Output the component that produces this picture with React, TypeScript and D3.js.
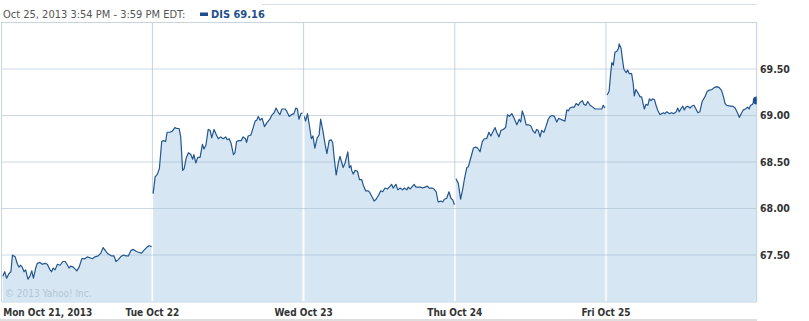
import React from "react";
import * as d3 from "d3";

type Pt = [number, number]; // [minutes since 9:30 open, price]

const dayLabels = ["Mon Oct 21, 2013", "Tue Oct 22", "Wed Oct 23", "Thu Oct 24", "Fri Oct 25"];
const yTicks = [67.5, 68.0, 68.5, 69.0, 69.5];
const headerText = "Oct 25, 2013 3:54 PM - 3:59 PM EDT:";
const seriesLabel = "DIS 69.16";
const watermark = "\u00A9 2013 Yahoo! Inc.";

const mon: Pt[] = [
  [4, 67.27], [9, 67.32], [14, 67.25], [20, 67.3], [25, 67.32], [29, 67.5], [36, 67.48], [42, 67.4],
  [46, 67.37], [50, 67.39], [54, 67.37], [59, 67.32], [63, 67.34], [69, 67.24], [74, 67.27], [79, 67.33],
  [83, 67.25], [89, 67.36], [93, 67.41], [100, 67.42], [106, 67.4], [113, 67.41], [119, 67.4], [126, 67.34],
  [130, 67.32], [134, 67.36], [139, 67.34], [145, 67.4], [152, 67.39], [159, 67.43], [165, 67.43], [171, 67.39],
  [175, 67.36], [179, 67.38], [186, 67.37], [195, 67.33], [201, 67.37], [208, 67.46], [216, 67.46], [222, 67.48],
  [229, 67.47], [235, 67.46], [242, 67.48], [250, 67.49], [257, 67.52], [263, 67.58], [270, 67.54], [276, 67.51],
  [285, 67.49], [291, 67.49], [296, 67.43], [302, 67.45], [308, 67.48], [315, 67.5], [322, 67.49], [328, 67.49],
  [335, 67.55], [341, 67.56], [348, 67.54], [354, 67.53], [362, 67.52], [368, 67.55], [375, 67.58], [381, 67.6],
  [388, 67.59],
];

const tue: Pt[] = [
  [2, 68.16], [7, 68.34], [13, 68.37], [18, 68.43], [24, 68.72], [28, 68.73], [34, 68.72], [38, 68.82],
  [45, 68.82], [51, 68.83], [58, 68.87], [63, 68.86], [69, 68.86], [73, 68.77], [78, 68.41], [82, 68.43],
  [87, 68.54], [93, 68.6], [99, 68.58], [104, 68.53], [107, 68.58], [112, 68.49], [117, 68.55], [123, 68.55],
  [129, 68.69], [133, 68.64], [138, 68.68], [144, 68.85], [149, 68.84], [153, 68.76], [159, 68.85], [164, 68.8],
  [170, 68.75], [176, 68.77], [183, 68.75], [189, 68.77], [193, 68.74], [198, 68.75], [203, 68.7], [209, 68.58],
  [213, 68.6], [217, 68.72], [223, 68.73], [229, 68.73], [234, 68.77], [240, 68.75], [243, 68.71], [247, 68.78],
  [254, 68.79], [260, 68.87], [265, 68.94], [269, 68.95], [273, 68.99], [278, 68.95], [283, 68.97], [289, 68.88],
  [295, 68.92], [303, 68.96], [309, 69.01], [314, 69.03], [319, 69.08], [325, 69.03], [329, 69.01], [334, 69.07],
  [342, 69.07], [346, 69.05], [353, 68.99], [359, 69.01], [365, 69.02], [370, 69.08], [374, 69.07], [378, 68.96],
  [383, 69.02], [387, 69.03],
];

const wed: Pt[] = [
  [2, 68.99], [5, 68.94], [10, 69.02], [15, 68.89], [20, 68.75], [24, 68.78], [29, 68.65], [35, 68.76],
  [40, 68.79], [44, 68.96], [50, 68.83], [55, 68.7], [60, 68.59], [66, 68.73], [71, 68.74], [75, 68.71],
  [79, 68.54], [84, 68.36], [90, 68.5], [94, 68.56], [98, 68.5], [102, 68.44], [107, 68.49], [114, 68.61],
  [118, 68.44], [122, 68.46], [124, 68.41], [128, 68.37], [133, 68.41], [139, 68.4], [144, 68.31], [150, 68.31],
  [154, 68.25], [160, 68.19], [167, 68.19], [171, 68.17], [176, 68.13], [182, 68.08], [187, 68.1], [193, 68.14],
  [199, 68.19], [204, 68.18], [210, 68.22], [216, 68.21], [221, 68.23], [227, 68.26], [231, 68.22], [238, 68.26],
  [243, 68.2], [249, 68.22], [255, 68.2], [260, 68.22], [266, 68.2], [270, 68.23], [275, 68.21], [279, 68.23],
  [285, 68.26], [290, 68.23], [296, 68.23], [302, 68.23], [307, 68.22], [313, 68.23], [319, 68.24], [324, 68.22],
  [331, 68.22], [336, 68.21], [342, 68.18], [347, 68.07], [354, 68.08], [359, 68.07], [363, 68.1], [369, 68.11],
  [375, 68.18], [380, 68.11], [385, 68.09], [389, 68.04],
];

const thu: Pt[] = [
  [3, 68.32], [9, 68.27], [15, 68.1], [20, 68.2], [25, 68.32], [31, 68.44], [35, 68.45], [41, 68.54],
  [48, 68.65], [54, 68.66], [59, 68.65], [65, 68.61], [71, 68.72], [76, 68.75], [82, 68.75], [88, 68.82],
  [93, 68.78], [99, 68.83], [104, 68.87], [108, 68.82], [114, 68.77], [119, 68.84], [125, 68.85], [131, 68.87],
  [136, 69.01], [141, 68.99], [147, 69.02], [153, 68.97], [160, 68.9], [166, 68.96], [170, 68.93], [174, 69.05],
  [179, 68.99], [184, 68.9], [190, 68.9], [196, 68.89], [201, 68.84], [207, 68.81], [211, 68.85], [215, 68.84],
  [220, 68.77], [224, 68.84], [230, 68.82], [235, 68.88], [241, 68.96], [246, 68.99], [251, 69.0], [257, 68.99],
  [263, 68.93], [268, 68.97], [273, 68.96], [278, 68.95], [284, 68.94], [289, 69.06], [293, 69.05], [297, 69.08],
  [303, 69.09], [308, 69.09], [313, 69.13], [319, 69.11], [323, 69.14], [329, 69.16], [333, 69.12], [338, 69.11],
  [343, 69.15], [349, 69.11], [356, 69.09], [362, 69.07], [368, 69.07], [373, 69.07], [379, 69.07], [383, 69.11],
  [387, 69.08],
];

const fri: Pt[] = [
  [3, 69.22], [8, 69.26], [12, 69.45], [15, 69.57], [19, 69.54], [23, 69.68], [28, 69.69], [32, 69.72],
  [34, 69.77], [39, 69.72], [42, 69.62], [46, 69.5], [52, 69.46], [56, 69.49], [60, 69.45], [66, 69.45],
  [70, 69.35], [73, 69.21], [77, 69.28], [83, 69.24], [88, 69.2], [92, 69.2], [95, 69.14], [99, 69.07],
  [103, 69.12], [108, 69.11], [112, 69.18], [116, 69.16], [120, 69.18], [125, 69.17], [129, 69.11], [133, 69.06],
  [139, 69.01], [144, 69.02], [148, 69.03], [152, 69.02], [157, 69.04], [163, 69.02], [169, 69.03], [175, 69.02],
  [181, 69.04], [185, 69.08], [189, 69.04], [193, 69.07], [198, 69.1], [202, 69.06], [206, 69.09], [211, 69.1],
  [217, 69.08], [221, 69.1], [227, 69.11], [232, 69.07], [237, 69.03], [242, 69.04], [248, 69.15], [255, 69.2],
  [261, 69.26], [266, 69.27], [273, 69.28], [279, 69.3], [286, 69.31], [292, 69.3], [298, 69.27], [303, 69.2],
  [307, 69.13], [311, 69.11], [320, 69.1], [327, 69.1], [333, 69.08], [339, 69.03], [344, 68.98], [350, 69.03],
  [354, 69.06], [360, 69.07], [365, 69.09], [369, 69.07], [373, 69.11], [378, 69.12], [382, 69.17], [389, 69.16],
];

const days: Pt[][] = [mon, tue, wed, thu, fri];
const sessionMinutes = 390;

const W = 809;
const H = 321;
const left = 1.2;
const right = 757.2;
const top = 22.5;
const bottom = 301.5;

const FONT = "'DejaVu Sans Condensed', 'DejaVu Sans', Verdana, sans-serif";

export default function App() {
  const xs = d3.scaleLinear().domain([0, days.length * sessionMinutes]).range([left, right]);
  const ys = d3.scaleLinear().domain([67, 70]).range([bottom, top]);
  const tx = (di: number, m: number) => xs(di * sessionMinutes + m);

  const lineGen = (di: number) =>
    d3.line<Pt>().x((d) => tx(di, d[0])).y((d) => ys(d[1]));
  const areaGen = (di: number) =>
    d3.area<Pt>().x((d) => tx(di, d[0])).y0(ys(67)).y1((d) => ys(d[1]));

  const last = fri[fri.length - 1];
  const fmt = d3.format(".2f");

  return (
    <svg width={W} height={H} style={{ position: "absolute", left: 0, top: 0, background: "#fff" }}>
      <defs>
        <clipPath id="plotClip">
          <rect x={left} y={top} width={right - left - 0.5} height={bottom - top + 1} />
        </clipPath>
      </defs>
      {/* top faint rule */}
      <line x1={262} x2={757} y1={4.5} y2={4.5} stroke="#dadfe4" />
      {/* header */}
      <text x={3} y={17.5} fontFamily={FONT} fontSize={11} fill="#555">
        {headerText}
      </text>
      <rect x={200} y={12.5} width={8} height={3.5} fill="#1f4f8c" />
      <text x={211} y={17.5} fontFamily={FONT} fontSize={11} fontWeight="bold" fill="#1f4f8c">
        {seriesLabel}
      </text>

      {/* vertical day grid lines (under area) */}
      {days.slice(1).map((_, i) => (
        <line key={"vg" + i} x1={tx(i + 1, 0)} x2={tx(i + 1, 0)} y1={top} y2={bottom} stroke="#c6d3de" />
      ))}

      {/* areas */}
      <g clipPath="url(#plotClip)">
        {days.map((d, i) => (
          <path key={"a" + i} d={areaGen(i)(d) || ""} fill="#d6e6f2" />
        ))}
      </g>

      {/* white day separators within the area */}
      {days.slice(1).map((d, i) => {
        const prev = days[i];
        const yTop = Math.min(ys(prev[prev.length - 1][1]), ys(d[0][1]));
        return (
          <line key={"ws" + i} x1={tx(i + 1, 0)} x2={tx(i + 1, 0)} y1={yTop} y2={bottom} stroke="#ffffff" strokeWidth={1.2} />
        );
      })}

      {/* horizontal grid lines */}
      {yTicks.map((t) => (
        <line key={"hg" + t} x1={left} x2={right - 0.5} y1={ys(t)} y2={ys(t)} stroke="#a9c0d2" strokeOpacity={0.6} />
      ))}

      {/* frame */}
      <line x1={left} x2={right - 0.5} y1={top} y2={top} stroke="#c8d4de" />
      <line x1={left + 0.3} x2={left + 0.3} y1={top} y2={bottom} stroke="#c8d4de" />
      <line x1={right - 0.5} x2={right - 0.5} y1={top} y2={bottom + 0.5} stroke="#bfd2e1" />
      <line x1={left} x2={right - 0.5} y1={bottom + 0.5} y2={bottom + 0.5} stroke="#c2d5e4" />

      {/* watermark */}
      <text x={5} y={297} fontFamily={FONT} fontSize={10} fill="#b3c6d6">
        {watermark}
      </text>

      {/* lines */}
      <g clipPath="url(#plotClip)">
        {days.map((d, i) => (
          <path key={"l" + i} d={lineGen(i)(d) || ""} fill="none" stroke="#23558f" strokeWidth={1.2} strokeLinejoin="round" />
        ))}
        <circle cx={tx(4, last[0])} cy={ys(last[1])} r={4} fill="#1f4f8c" />
      </g>

      {/* y labels */}
      {yTicks.map((t) => (
        <text key={"yl" + t} x={760} y={ys(t)} dy="0.35em" fontFamily={FONT} fontSize={10.5} fontWeight="bold" fill="#333">
          {fmt(t)}
        </text>
      ))}

      {/* x labels */}
      {dayLabels.map((lab, i) => (
        <text
          key={"xl" + i}
          x={i === 0 ? tx(0, 0) + 2 : tx(i, 0)}
          y={316}
          textAnchor={i === 0 ? "start" : "middle"}
          fontFamily={FONT}
          fontSize={10}
          fontWeight="bold"
          fill="#333"
        >
          {lab}
        </text>
      ))}

      {/* bottom strip */}
      <rect x={0} y={319} width={757} height={2} fill="#dedede" />
    </svg>
  );
}
